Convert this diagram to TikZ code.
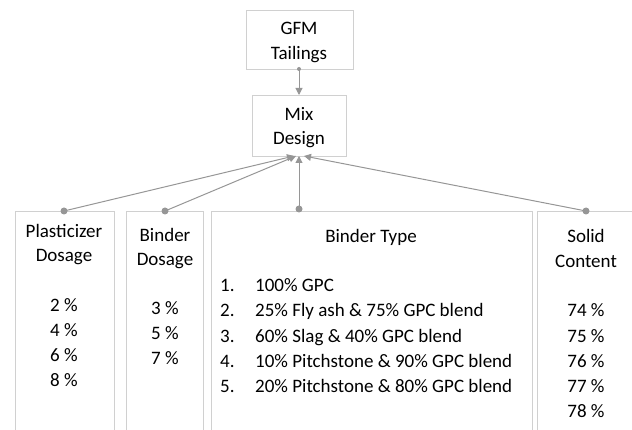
\documentclass[tikz,border=0pt]{standalone}
\usepackage{fontspec}
\setmainfont{Carlito}
\usetikzlibrary{arrows.meta}
\definecolor{boxline}{RGB}{208,208,208}
\definecolor{conn}{RGB}{150,150,150}
\definecolor{txt}{RGB}{0,0,0}
\begin{document}
\begin{tikzpicture}[x=1pt,y=-1pt,
  boxnode/.style={draw=boxline,line width=1pt,fill=white,inner sep=0pt,anchor=north west},
  lbl/.style={anchor=base,inner sep=0pt,text=txt,font=\fontsize{19}{24}\selectfont},
  lbll/.style={lbl,anchor=base west},
  conline/.style={draw=conn,line width=1pt,-{Triangle[length=7pt,width=7pt]}},
  dotmark/.style={circle,fill=conn,inner sep=0pt,minimum size=7pt}]
\useasboundingbox (0,0) rectangle (632,430);
\clip (0,0) rectangle (632,430);
% top boxes
\node[boxnode,minimum width=107pt,minimum height=59pt] (gfm) at (246,10) {};
\node[boxnode,minimum width=94pt,minimum height=61pt] (mix) at (252,95) {};
% bottom boxes
\node[boxnode,minimum width=99pt,minimum height=240pt] (plast) at (15,211) {};
\node[boxnode,minimum width=77pt,minimum height=240pt] (bdose) at (126,211) {};
\node[boxnode,minimum width=321pt,minimum height=240pt] (btype) at (211,211) {};
\node[boxnode,minimum width=100pt,minimum height=240pt] (solid) at (537,211) {};
% texts
\node[lbl] (gfm1) at (299,35) {GFM};
\node[lbl] (gfm2) at (299,60) {Tailings};
\node[lbl] (mix1) at (299,121) {Mix};
\node[lbl] (mix2) at (299,145) {Design};
\node[lbl] (pl1) at (64,238) {Plasticizer};
\node[lbl] (pl2) at (64,262) {Dosage};
\foreach \v [count=\i] in {2,4,6,8}
  \node[lbl] (plv\i) at (64,{312+24.7*(\i-1)}) {\v\ \%};
\node[lbl] (bd1) at (165,242) {Binder};
\node[lbl] (bd2) at (165,266) {Dosage};
\foreach \v [count=\i] in {3,5,7}
  \node[lbl] (bdv\i) at (165,{315+25*(\i-1)}) {\v\ \%};
\node[lbl] (bt1) at (371,243) {Binder Type};
\foreach \t [count=\i] in {100\% GPC,25\% Fly ash \& 75\% GPC blend,60\% Slag \& 40\% GPC blend,10\% Pitchstone \& 90\% GPC blend,20\% Pitchstone \& 80\% GPC blend}{
  \node[lbll] (btn\i) at (220,{292+25*(\i-1)}) {\i.};
  \node[lbll] (btt\i) at (255,{292+25*(\i-1)}) {\t};
}
\node[lbl] (sc1) at (586,243) {Solid};
\node[lbl] (sc2) at (586,268) {Content};
\foreach \v [count=\i] in {74,75,76,77,78}
  \node[lbl] (scv\i) at (586,{317+25*(\i-1)}) {\v\ \%};
% connector anchors
\coordinate (gfmB) at (299,69);
\coordinate (mixT) at (299,95);
\coordinate (plT) at (64,211);
\coordinate (bdT) at (165,211);
\coordinate (btT) at (299,211);
\coordinate (scT) at (586,211);
\coordinate (mixB1) at (294,156);
\coordinate (mixB2) at (296,156);
\coordinate (mixB3) at (299,156);
\coordinate (mixB4) at (304,156);
\draw[conline] (gfmB) -- (mixT);
\node[circle,fill=conn,inner sep=0pt,minimum size=4pt] (gfmdot) at (gfmB) {};
\draw[conline] (plT) -- (mixB1);
\draw[conline] (bdT) -- (mixB2);
\draw[conline] (btT) -- (mixB3);
\draw[conline] (scT) -- (mixB4);
\node[dotmark] (pldot) at (plT) {};
\node[dotmark] (bddot) at (bdT) {};
\node[dotmark] (btdot) at (299,209) {};
\node[dotmark] (scdot) at (scT) {};
\end{tikzpicture}
\end{document}
